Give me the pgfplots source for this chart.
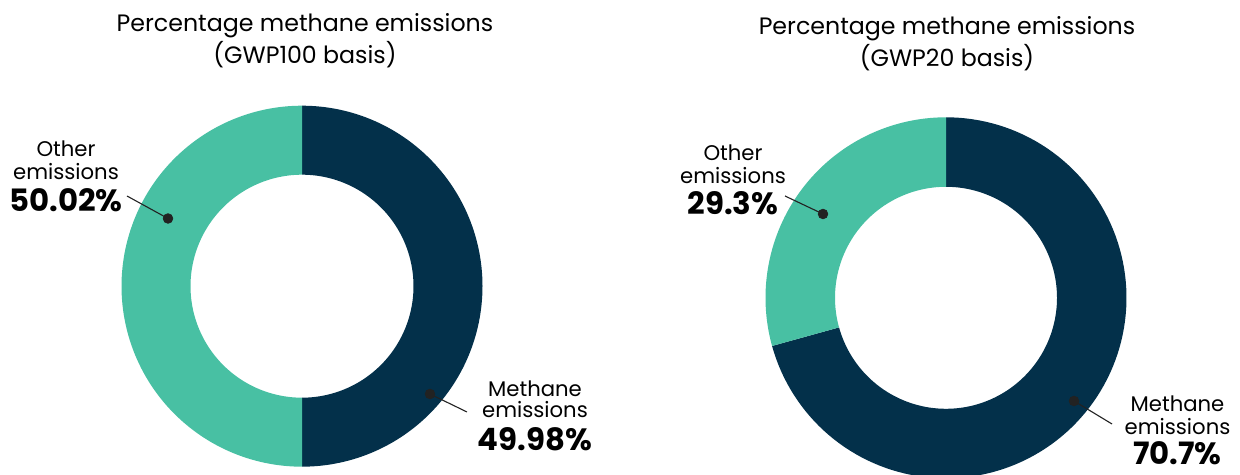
\documentclass[border=0pt]{standalone}
\usepackage{pgfplots}
\pgfplotsset{compat=1.18}
\usepackage{fontspec}
\setmainfont{Poppins}
\definecolor{navy}{HTML}{03304A}
\definecolor{teal}{HTML}{48C0A3}
\definecolor{dotc}{HTML}{222222}
% data (percent)
\def\leftMeth{49.98}
\def\leftOther{50.02}
\def\rightMeth{70.7}
\def\rightOther{29.3}
% donut segment: cx, cy, rout, rin, start angle, end angle, colour
\newcommand{\seg}[7]{%
  \addplot[fill=#7, draw=none, domain=0:2, samples=241, variable=\t]
  ({#1 + (\t<1.004 ? #3 : #4)*cos(\t<1.004 ? (#5)+((#6)-(#5))*min(\t,1) : (#6)-((#6)-(#5))*max(\t-1.01,0)/0.99)},
   {#2 + (\t<1.004 ? #3 : #4)*sin(\t<1.004 ? (#5)+((#6)-(#5))*min(\t,1) : (#6)-((#6)-(#5))*max(\t-1.01,0)/0.99)}) -- cycle;
}
\newcommand{\reg}{\fontsize{10.6pt}{12pt}\selectfont}
\newcommand{\bld}{\fontsize{15.4pt}{17pt}\selectfont\bfseries}
\newcommand{\ttl}{\fontsize{11.85pt}{14pt}\selectfont}
\begin{document}
\begin{tikzpicture}
\begin{axis}[
  width=620pt, height=237.5pt, scale only axis,
  xmin=0, xmax=1240, ymin=0, ymax=475,
  hide axis, clip=true,
]
\addplot[draw=none] coordinates {(0,0) (1240,475)};
% left donut: centre (302, 475-286.2)
\seg{302}{188.8}{180.5}{111.5}{90}{90-3.6*\leftMeth}{navy}
\seg{302}{188.8}{180.5}{111.5}{90-3.6*\leftMeth}{90-3.6*(\leftMeth+\leftOther)}{teal}
% right donut: centre (946, 475-297.8)
\seg{946}{177.2}{180.5}{111}{90}{90-3.6*\rightMeth}{navy}
\seg{946}{177.2}{180.5}{111}{90-3.6*\rightMeth}{90-3.6*(\rightMeth+\rightOther)}{teal}
% leader lines
\addplot[dotc, line width=0.55pt, mark=none] coordinates {(127,279) (168,256.5)};
\addplot[dotc, line width=0.55pt, mark=none] coordinates {(430,81) (467,63)};
\addplot[dotc, line width=0.55pt, mark=none] coordinates {(785,279) (823,261)};
\addplot[dotc, line width=0.55pt, mark=none] coordinates {(1074,74) (1112,51)};
% dots
\addplot[only marks, mark=*, mark size=2.4pt, dotc] coordinates {(168,256.5) (430,81) (823,261) (1074,74)};
% titles
\node[anchor=base, font=\ttl] at (axis cs:305,443.3) {Percentage methane emissions};
\node[anchor=base, font=\ttl] at (axis cs:305,411.7) {(GWP100 basis)};
\node[anchor=base, font=\ttl] at (axis cs:947,440) {Percentage methane emissions};
\node[anchor=base, font=\ttl] at (axis cs:947,408) {(GWP20 basis)};
% labels
\node[anchor=base, font=\reg] at (axis cs:66,318.3) {Other};
\node[anchor=base, font=\reg] at (axis cs:66,295) {emissions};
\node[anchor=base, font=\bld] at (axis cs:66,263.3) {50.02\%};
\node[anchor=base, font=\reg] at (axis cs:535,78.3) {Methane};
\node[anchor=base, font=\reg] at (axis cs:535,57.7) {emissions};
\node[anchor=base, font=\bld] at (axis cs:535,24.3) {49.98\%};
\node[anchor=base, font=\reg] at (axis cs:733,314) {Other};
\node[anchor=base, font=\reg] at (axis cs:733,291.7) {emissions};
\node[anchor=base, font=\bld] at (axis cs:733,260) {29.3\%};
\node[anchor=base, font=\reg] at (axis cs:1177.5,63.3) {Methane};
\node[anchor=base, font=\reg] at (axis cs:1177.5,40.7) {emissions};
\node[anchor=base, font=\bld] at (axis cs:1177.5,10) {70.7\%};
\end{axis}
\end{tikzpicture}
\end{document}
